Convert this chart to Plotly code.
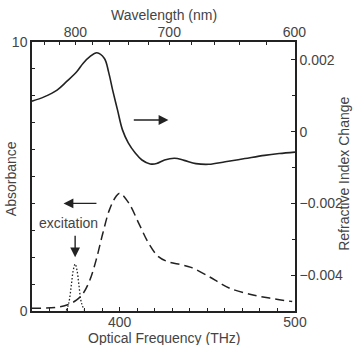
import plotly.graph_objects as go

# ---- data ----
ri_freq = [350, 356.9, 364.3, 369.8, 375.5, 379.2, 383, 387, 391.3, 393.7, 396, 398.8, 401.6,
           404.9, 409, 412.7, 417.4, 421.1, 425.6, 431.3, 436.8, 443.5, 450.9, 460.2, 471.4,
           482.6, 491, 500]
ri_val = [0.00085, 0.00097, 0.00116, 0.0014, 0.00167, 0.00191, 0.00209, 0.0022, 0.00204,
          0.00166, 0.00116, 0.0006, 0.00005, -0.00031, -0.0006, -0.00079, -0.0009, -0.00089,
          -0.00079, -0.00074, -0.0008, -0.00089, -0.00091, -0.00084, -0.00075, -0.00066,
          -0.00061, -0.00057]

abs_freq = [350, 364.3, 369.9, 375.5, 379.2, 383, 386.6, 390.4, 394.1, 397.8, 400.1, 405.3,
            410.9, 416.5, 422.1, 427.7, 435.1, 440.7, 450.9, 457.4, 463.0, 474.2, 485.4, 498.4]
abs_val = [0.1, 0.14, 0.22, 0.41, 0.66, 1.15, 1.9, 2.89, 3.75, 4.25, 4.38, 4.0,
           3.26, 2.52, 2.02, 1.83, 1.72, 1.62, 1.28, 1.03, 0.84, 0.62, 0.48, 0.35]

exc_freq = [369.6, 371, 372.5, 373.5, 374.6, 375.7, 376.7, 378.2, 380]
exc_val = [0.02, 0.3, 1.0, 1.5, 1.75, 1.5, 1.0, 0.3, 0.02]

wl_ticks = [840, 820, 800, 780, 760, 740, 720, 700, 680, 660, 640, 620, 600]
wl_labels = ["", "", "800", "", "", "", "", "700", "", "", "", "", "600"]

ri_ticks = [-0.004, -0.002, 0, 0.002]
ri_labels = ["\u22120.004", "\u22120.002", "0", "0.002"]

C = 299792.458  # nm*THz
wl_pos = [C / w for w in wl_ticks]

LINE = "#222222"
TXT = "#444444"
FONT = dict(family="Liberation Sans, Arial, sans-serif", size=14, color=TXT)

fig = go.Figure()
fig.add_trace(go.Scatter(x=ri_freq, y=ri_val, yaxis="y2", mode="lines", line_shape="spline",
                         line=dict(color=LINE, width=1.6), showlegend=False))
fig.add_trace(go.Scatter(x=abs_freq, y=abs_val, mode="lines", line_shape="spline",
                         line=dict(color=LINE, width=1.5, dash="9px,5px"), showlegend=False))
fig.add_trace(go.Scatter(x=exc_freq, y=exc_val, mode="lines", line_shape="spline",
                         line=dict(color=LINE, width=1.3, dash="1.5px,2px"), showlegend=False))
# dummy for top axis
fig.add_trace(go.Scatter(x=[350, 500], y=[None, None], xaxis="x2", showlegend=False, hoverinfo="skip"))

fig.update_layout(
    width=355, height=345,
    margin=dict(l=28, r=59, t=42, b=34),
    paper_bgcolor="white", plot_bgcolor="white",
    font=FONT,
    xaxis=dict(range=[350, 500], tickvals=[400, 500], ticks="inside", ticklen=4,
               showline=True, linecolor=LINE, linewidth=1.5, showgrid=False, zeroline=False,
               tickcolor=LINE, tickfont=FONT, ticklabelstandoff=-3,
               minor=dict(dtick=10, ticks="inside", ticklen=3, tickcolor=LINE)),
    xaxis2=dict(range=[350, 500], overlaying="x", side="top", tickvals=wl_pos, ticktext=wl_labels,
                ticks="inside", ticklen=3, showline=True, linecolor=LINE, linewidth=1.5,
                showgrid=False, zeroline=False, tickcolor=LINE, tickfont=FONT, ticklabelstandoff=-2),
    yaxis=dict(range=[0, 10], tickvals=[0, 10], ticks="inside", ticklen=4,
               showline=True, linecolor=LINE, linewidth=1.5, showgrid=False, zeroline=False,
               tickcolor=LINE, tickfont=FONT, ticklabelstandoff=0,
               minor=dict(dtick=1, ticks="inside", ticklen=3, tickcolor=LINE)),
    yaxis2=dict(range=[-0.005, 0.0025], overlaying="y", side="right", tickvals=ri_ticks,
                ticktext=ri_labels, ticks="inside", ticklen=4, showline=True, linecolor=LINE,
                linewidth=1.5, showgrid=False, zeroline=False, tickcolor=LINE, tickfont=FONT,
                ticklabelstandoff=0,
                minor=dict(dtick=0.001, ticks="inside", ticklen=3, tickcolor=LINE)),
    annotations=[
        dict(text="Wavelength (nm)", xref="paper", yref="paper", x=0.5, y=1, yshift=27,
             xanchor="center", yanchor="middle", showarrow=False, font=FONT),
        dict(text="Optical Frequency (THz)", xref="paper", yref="paper", x=0.5, y=0, yshift=-27,
             xanchor="center", yanchor="middle", showarrow=False, font=FONT),
        dict(text="Absorbance", xref="paper", yref="paper", x=0, y=0.49, xshift=-21, textangle=-90,
             xanchor="center", yanchor="middle", showarrow=False, font=FONT),
        dict(text="Refractive Index Change", xref="paper", yref="paper", x=1, y=0.51, xshift=49,
             xanchor="center", yanchor="middle", textangle=-90, showarrow=False, font=FONT),
        dict(text="excitation", x=370.8, y=3.26, xref="x", yref="y", showarrow=False, font=FONT,
             xanchor="center", yanchor="middle"),
        # right arrow (refractive index -> right axis)
        dict(x=427.8, y=7.1, ax=407.2, ay=7.1, xref="x", yref="y", axref="x", ayref="y",
             text="", showarrow=True, arrowhead=2, arrowsize=1.4, arrowwidth=1.4, arrowcolor=LINE),
        # left arrow (absorbance -> left axis)
        dict(x=368, y=4.0, ax=387.6, ay=4.0, xref="x", yref="y", axref="x", ayref="y",
             text="", showarrow=True, arrowhead=2, arrowsize=1.4, arrowwidth=1.4, arrowcolor=LINE),
        # down arrow (excitation)
        dict(x=374.6, y=2.0, ax=374.6, ay=2.85, xref="x", yref="y", axref="x", ayref="y",
             text="", showarrow=True, arrowhead=2, arrowsize=1.4, arrowwidth=1.4, arrowcolor=LINE),
    ],
)

fig.write_html("out.html")
